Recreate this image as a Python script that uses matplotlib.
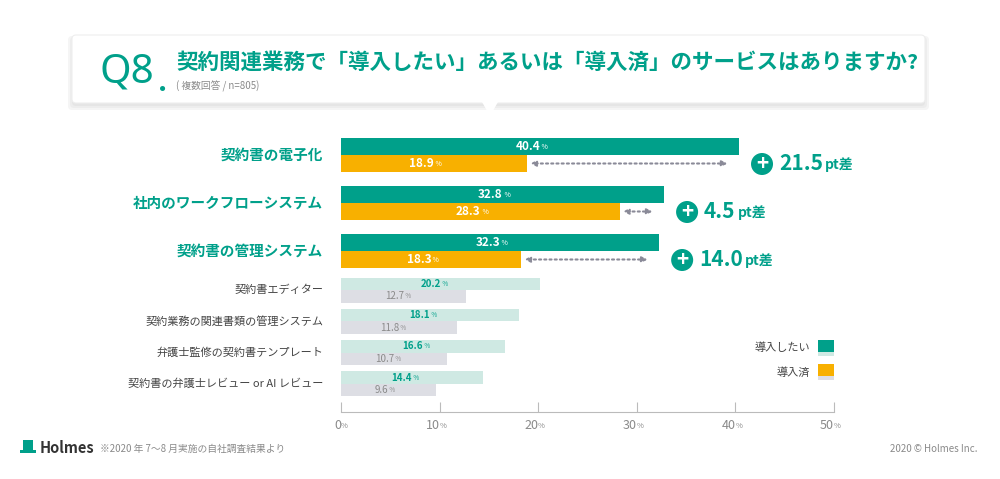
import matplotlib.pyplot as plt
from matplotlib.patches import FancyBboxPatch, Polygon, Rectangle, Circle

plt.rcParams['font.family'] = ['Noto Sans CJK JP', 'DejaVu Sans']

# main items (highlighted)
main_labels = ["契約書の電子化", "社内のワークフローシステム", "契約書の管理システム"]
main_want = [40.4, 32.8, 32.3]
main_done = [18.9, 28.3, 18.3]
main_diff = ["21.5", "4.5", "14.0"]

# other items
sub_labels = ["契約書エディター", "契約業務の関連書類の管理システム",
              "弁護士監修の契約書テンプレート", "契約書の弁護士レビュー or AI レビュー"]
sub_want = [20.2, 18.1, 16.6, 14.4]
sub_done = [12.7, 11.8, 10.7, 9.6]

xticks = [0, 10, 20, 30, 40, 50]

GREEN = "#00a08a"
ORANGE = "#f8b000"
LGREEN = "#cfe9e3"
LGREY = "#dddee4"
GREY = "#8a8a8a"

W, H = 1000, 479
fig = plt.figure(figsize=(W / 100, H / 100), dpi=100)
fig.patch.set_facecolor("white")

# overlay axes in pixel coords for decorations
bg = fig.add_axes([0, 0, 1, 1])
bg.set_xlim(0, W)
bg.set_ylim(H, 0)
bg.axis("off")

# header box with shadow
for i, a in enumerate([0.03, 0.03, 0.04]):
    bg.add_patch(FancyBboxPatch((72 - i * 2, 35 - i * 1 + 3), 853 + i * 4, 68 + i * 3,
                                boxstyle="round,pad=0,rounding_size=4", fc="#000000", ec="none", alpha=a))
bg.add_patch(FancyBboxPatch((72, 35), 853, 68, boxstyle="round,pad=0,rounding_size=4",
                            fc="white", ec="#eeeeee", lw=0.8))
bg.add_patch(Polygon([[482, 102], [498, 102], [490, 116]], closed=True, fc="white", ec="none"))
bg.text(100, 72, "Q8", fontsize=29, color=GREEN, va="center", ha="left",
        family=["Noto Sans", "DejaVu Sans"], fontweight="light")
bg.text(158, 83, ".", fontsize=20, color=GREEN, va="center", ha="left", fontweight="bold")
bg.text(176, 62, "契約関連業務で「導入したい」あるいは「導入済」のサービスはありますか?",
        fontsize=15.5, color=GREEN, fontweight="bold", va="center", ha="left")
bg.text(176, 86, "( 複数回答 / n=805)", fontsize=7, color=GREY, va="center", ha="left")

# chart axes: y in pixel units
ax = fig.add_axes([0.341, 1 - 412 / H, 0.834 - 0.341, (412 - 130) / H])
ax.set_xlim(0, 50)
ax.set_ylim(412, 130)
for s in ["top", "right", "left"]:
    ax.spines[s].set_visible(False)
ax.spines["bottom"].set_color("#bbbbbb")
ax.set_yticks([])
ax.set_xticks(xticks)
ax.set_xticklabels([])
ax.tick_params(axis="x", length=7, color="#bbbbbb", direction="in")
ax.set_facecolor("none")
for t in xticks:
    ax.text(t, 425, f"{t}", fontsize=9, color=GREY, ha="right", va="center", clip_on=False)
    ax.text(t, 426, "%", fontsize=5.5, color=GREY, ha="left", va="center", clip_on=False)

bh = 17
for i, (lab, w, d, df) in enumerate(zip(main_labels, main_want, main_done, main_diff)):
    y0 = 155 + i * 48
    ax.barh(y0 - bh / 2, w, height=bh, color=GREEN)
    ax.barh(y0 + bh / 2, d, height=bh, color=ORANGE)
    ax.text(w / 2, y0 - bh / 2, f"{w}", color="white", fontsize=8.5, fontweight="bold", ha="right", va="center")
    ax.text(w / 2, y0 - bh / 2, " %", color="white", fontsize=5, ha="left", va="center")
    ax.text(d / 2, y0 + bh / 2, f"{d}", color="white", fontsize=8.5, fontweight="bold", ha="right", va="center")
    ax.text(d / 2, y0 + bh / 2, " %", color="white", fontsize=5, ha="left", va="center")
    ax.text(-1.8, y0, lab, color=GREEN, fontsize=10.5, fontweight="bold", ha="right", va="center", clip_on=False)
    ax.annotate("", xy=(d + 0.3, y0 + bh / 2), xytext=(w - 1.2, y0 + bh / 2),
                arrowprops=dict(arrowstyle="<|-|>", linestyle=(0, (1, 1.5)), color="#8a8a98", lw=1.5,
                                shrinkA=0, shrinkB=0, mutation_scale=8), annotation_clip=False)
    cx = w + 2.3
    bg_x = 341 + cx / 50 * 493
    bg.add_patch(Circle((bg_x, y0 + 9), 11, fc=GREEN, ec="none"))
    bg.text(bg_x, y0 + 8, "+", color="white", fontsize=15, fontweight="bold", ha="center", va="center")
    t = bg.text(bg_x + 17, y0 + 8, df, color=GREEN, fontsize=15, fontweight="bold", ha="left", va="center")
    fig.canvas.draw()
    bb = t.get_window_extent()
    bg.text(bg_x + 17 + bb.width + 2, y0 + 10, "pt差", color=GREEN, fontsize=10, fontweight="bold",
            ha="left", va="center")

sh = 12.5
for i, (lab, w, d) in enumerate(zip(sub_labels, sub_want, sub_done)):
    y0 = 290 + i * 31.3
    ax.barh(y0 - sh / 2, w, height=sh, color=LGREEN)
    ax.barh(y0 + sh / 2, d, height=sh, color=LGREY)
    ax.text(w / 2, y0 - sh / 2, f"{w}", color=GREEN, fontsize=7, fontweight="bold", ha="right", va="center")
    ax.text(w / 2, y0 - sh / 2, " %", color=GREEN, fontsize=4.5, ha="left", va="center")
    ax.text(d / 2, y0 + sh / 2, f"{d}", color=GREY, fontsize=7, ha="right", va="center")
    ax.text(d / 2, y0 + sh / 2, " %", color=GREY, fontsize=4.5, ha="left", va="center")
    ax.text(-1.8, y0, lab, color="#444444", fontsize=8, ha="right", va="center", clip_on=False)

# legend
bg.add_patch(Rectangle((818, 340), 16, 12, fc=GREEN, ec="none"))
bg.add_patch(Rectangle((818, 352), 16, 4, fc=LGREEN, ec="none"))
bg.add_patch(Rectangle((818, 364), 16, 12, fc=ORANGE, ec="none"))
bg.add_patch(Rectangle((818, 376), 16, 4, fc=LGREY, ec="none"))
bg.text(810, 348, "導入したい", fontsize=8, color="#444444", ha="right", va="center")
bg.text(810, 372, "導入済", fontsize=8, color="#444444", ha="right", va="center")

# footer: simple hat logo
bg.add_patch(Rectangle((23, 440), 10, 10, fc=GREEN, ec="none"))
bg.add_patch(Rectangle((20, 450), 16, 2.5, fc=GREEN, ec="none"))
bg.text(40, 448, "Holmes", fontsize=10.5, fontweight="bold", color="#333333", ha="left", va="center")
bg.text(100, 449, "※2020 年 7〜8 月実施の自社調査結果より", fontsize=7, color=GREY, ha="left", va="center")
bg.text(978, 449, "2020 © Holmes Inc.", fontsize=7, color=GREY, ha="right", va="center")

fig.savefig("out.png", dpi=100)
